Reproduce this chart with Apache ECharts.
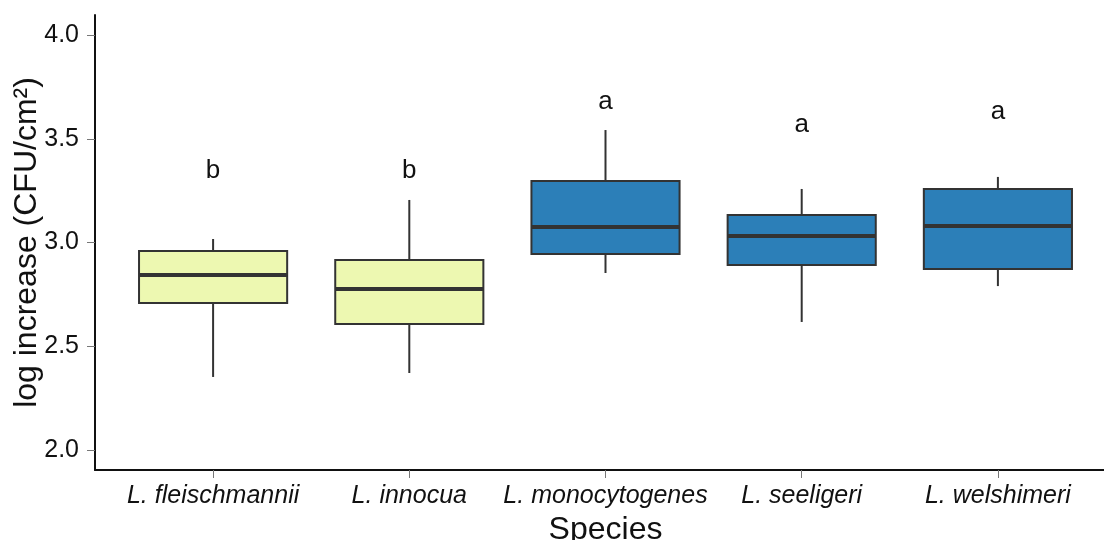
<!DOCTYPE html>
<html>
<head>
<meta charset="utf-8">
<script src="https://cdn.jsdelivr.net/npm/echarts@6/dist/echarts.min.js"></script>
<style>
html,body{margin:0;padding:0;background:#fff;}
#chart{width:1104px;height:540px;}
</style>
</head>
<body>
<div id="chart"></div>
<script>
// ---- data ----
const categories = ['L. fleischmannii', 'L. innocua', 'L. monocytogenes', 'L. seeligeri', 'L. welshimeri'];
// [lower whisker, Q1, median, Q3, upper whisker]
const boxStats = [
  [2.352, 2.708, 2.843, 2.959, 3.017],
  [2.371, 2.607, 2.776, 2.916, 3.205],
  [2.853, 2.945, 3.075, 3.296, 3.542],
  [2.617, 2.892, 3.031, 3.133, 3.258],
  [2.790, 2.872, 3.080, 3.258, 3.316]
];
const groupLetters = ['b', 'b', 'a', 'a', 'a'];
const letterY = [3.345, 3.345, 3.677, 3.567, 3.632];
const fillColors = ['#EDF8B1', '#EDF8B1', '#2C7FB8', '#2C7FB8', '#2C7FB8'];
const yTicks = [2.0, 2.5, 3.0, 3.5, 4.0];

const FONT = "'Liberation Sans', Arial, Helvetica, sans-serif";

const boxData = boxStats.map((s, i) => [i].concat(s));
const letterData = letterY.map((v, i) => [i, v]);

const chart = echarts.init(document.getElementById('chart'), null, {renderer: 'canvas'});

const option = {
  backgroundColor: '#ffffff',
  animation: false,
  grid: [
    {left: 95, top: 15, right: 0, bottom: 70, containLabel: false, outerBoundsMode: 'none'},
    {left: 115, top: 35, right: 8, bottom: 90, containLabel: false, outerBoundsMode: 'none'}
  ],
  xAxis: [
    {
      gridIndex: 0, type: 'value', min: 0, max: 1,
      axisLine: {show: true, onZero: false, lineStyle: {color: '#111', width: 2}},
      axisTick: {show: false}, axisLabel: {show: false}, splitLine: {show: false}
    },
    {
      gridIndex: 1, type: 'category', data: categories, boundaryGap: true,
      offset: 20,
      axisLine: {show: false},
      axisTick: {show: true, alignWithLabel: true, length: 8, lineStyle: {color: '#777', width: 1}},
      axisLabel: {fontSize: 25, fontStyle: 'italic', color: '#111', fontFamily: FONT, margin: 14, interval: 0},
      splitLine: {show: false},
      name: 'Species', nameLocation: 'middle', nameGap: 33,
      nameTextStyle: {fontSize: 32, color: '#111', fontFamily: FONT}
    }
  ],
  yAxis: [
    {
      gridIndex: 0, type: 'value', min: 1.9035, max: 4.0965,
      axisLine: {show: true, onZero: false, lineStyle: {color: '#111', width: 2}},
      axisTick: {show: false}, axisLabel: {show: false}, splitLine: {show: false},
      name: 'log increase (CFU/cm²)', nameLocation: 'middle', nameGap: 52,
      nameTextStyle: {fontSize: 32, color: '#111', fontFamily: FONT}
    },
    {
      gridIndex: 1, type: 'value', min: yTicks[0], max: yTicks[yTicks.length - 1], interval: 0.5,
      offset: 20,
      axisLine: {show: false},
      axisTick: {show: true, length: 8, lineStyle: {color: '#777', width: 1}},
      axisLabel: {fontSize: 25, color: '#111', fontFamily: FONT, margin: 16,
        formatter: v => v.toFixed(1)},
      splitLine: {show: false}
    }
  ],
  series: [
    {
      type: 'custom',
      xAxisIndex: 1, yAxisIndex: 1,
      data: boxData,
      encode: {x: 0, y: [1, 2, 3, 4, 5]},
      renderItem: function (params, api) {
        const idx = api.value(0);
        const band = api.size([1, 0])[0];
        const w = band * 0.755;
        const cx = api.coord([idx, api.value(3)])[0];
        const yLo = api.coord([idx, api.value(1)])[1];
        const yQ1 = api.coord([idx, api.value(2)])[1];
        const yMed = api.coord([idx, api.value(3)])[1];
        const yQ3 = api.coord([idx, api.value(4)])[1];
        const yHi = api.coord([idx, api.value(5)])[1];
        const stroke = '#333333';
        return {
          type: 'group',
          children: [
            {type: 'line', shape: {x1: cx, y1: yLo, x2: cx, y2: yQ1}, style: {stroke: stroke, lineWidth: 2}},
            {type: 'line', shape: {x1: cx, y1: yQ3, x2: cx, y2: yHi}, style: {stroke: stroke, lineWidth: 2}},
            {type: 'rect', shape: {x: cx - w / 2, y: yQ3, width: w, height: yQ1 - yQ3},
              style: {fill: fillColors[params.dataIndex], stroke: stroke, lineWidth: 2}},
            {type: 'line', shape: {x1: cx - w / 2, y1: yMed, x2: cx + w / 2, y2: yMed},
              style: {stroke: stroke, lineWidth: 4}}
          ]
        };
      }
    },
    {
      type: 'custom',
      xAxisIndex: 1, yAxisIndex: 1,
      data: letterData,
      encode: {x: 0, y: 1},
      renderItem: function (params, api) {
        const p = api.coord([api.value(0), api.value(1)]);
        return {
          type: 'text',
          x: p[0], y: p[1],
          style: {
            text: groupLetters[params.dataIndex],
            fontSize: 26, fontFamily: FONT, fill: '#111',
            align: 'center', verticalAlign: 'middle'
          }
        };
      }
    }
  ]
};
chart.setOption(option);
</script>
</body>
</html>
